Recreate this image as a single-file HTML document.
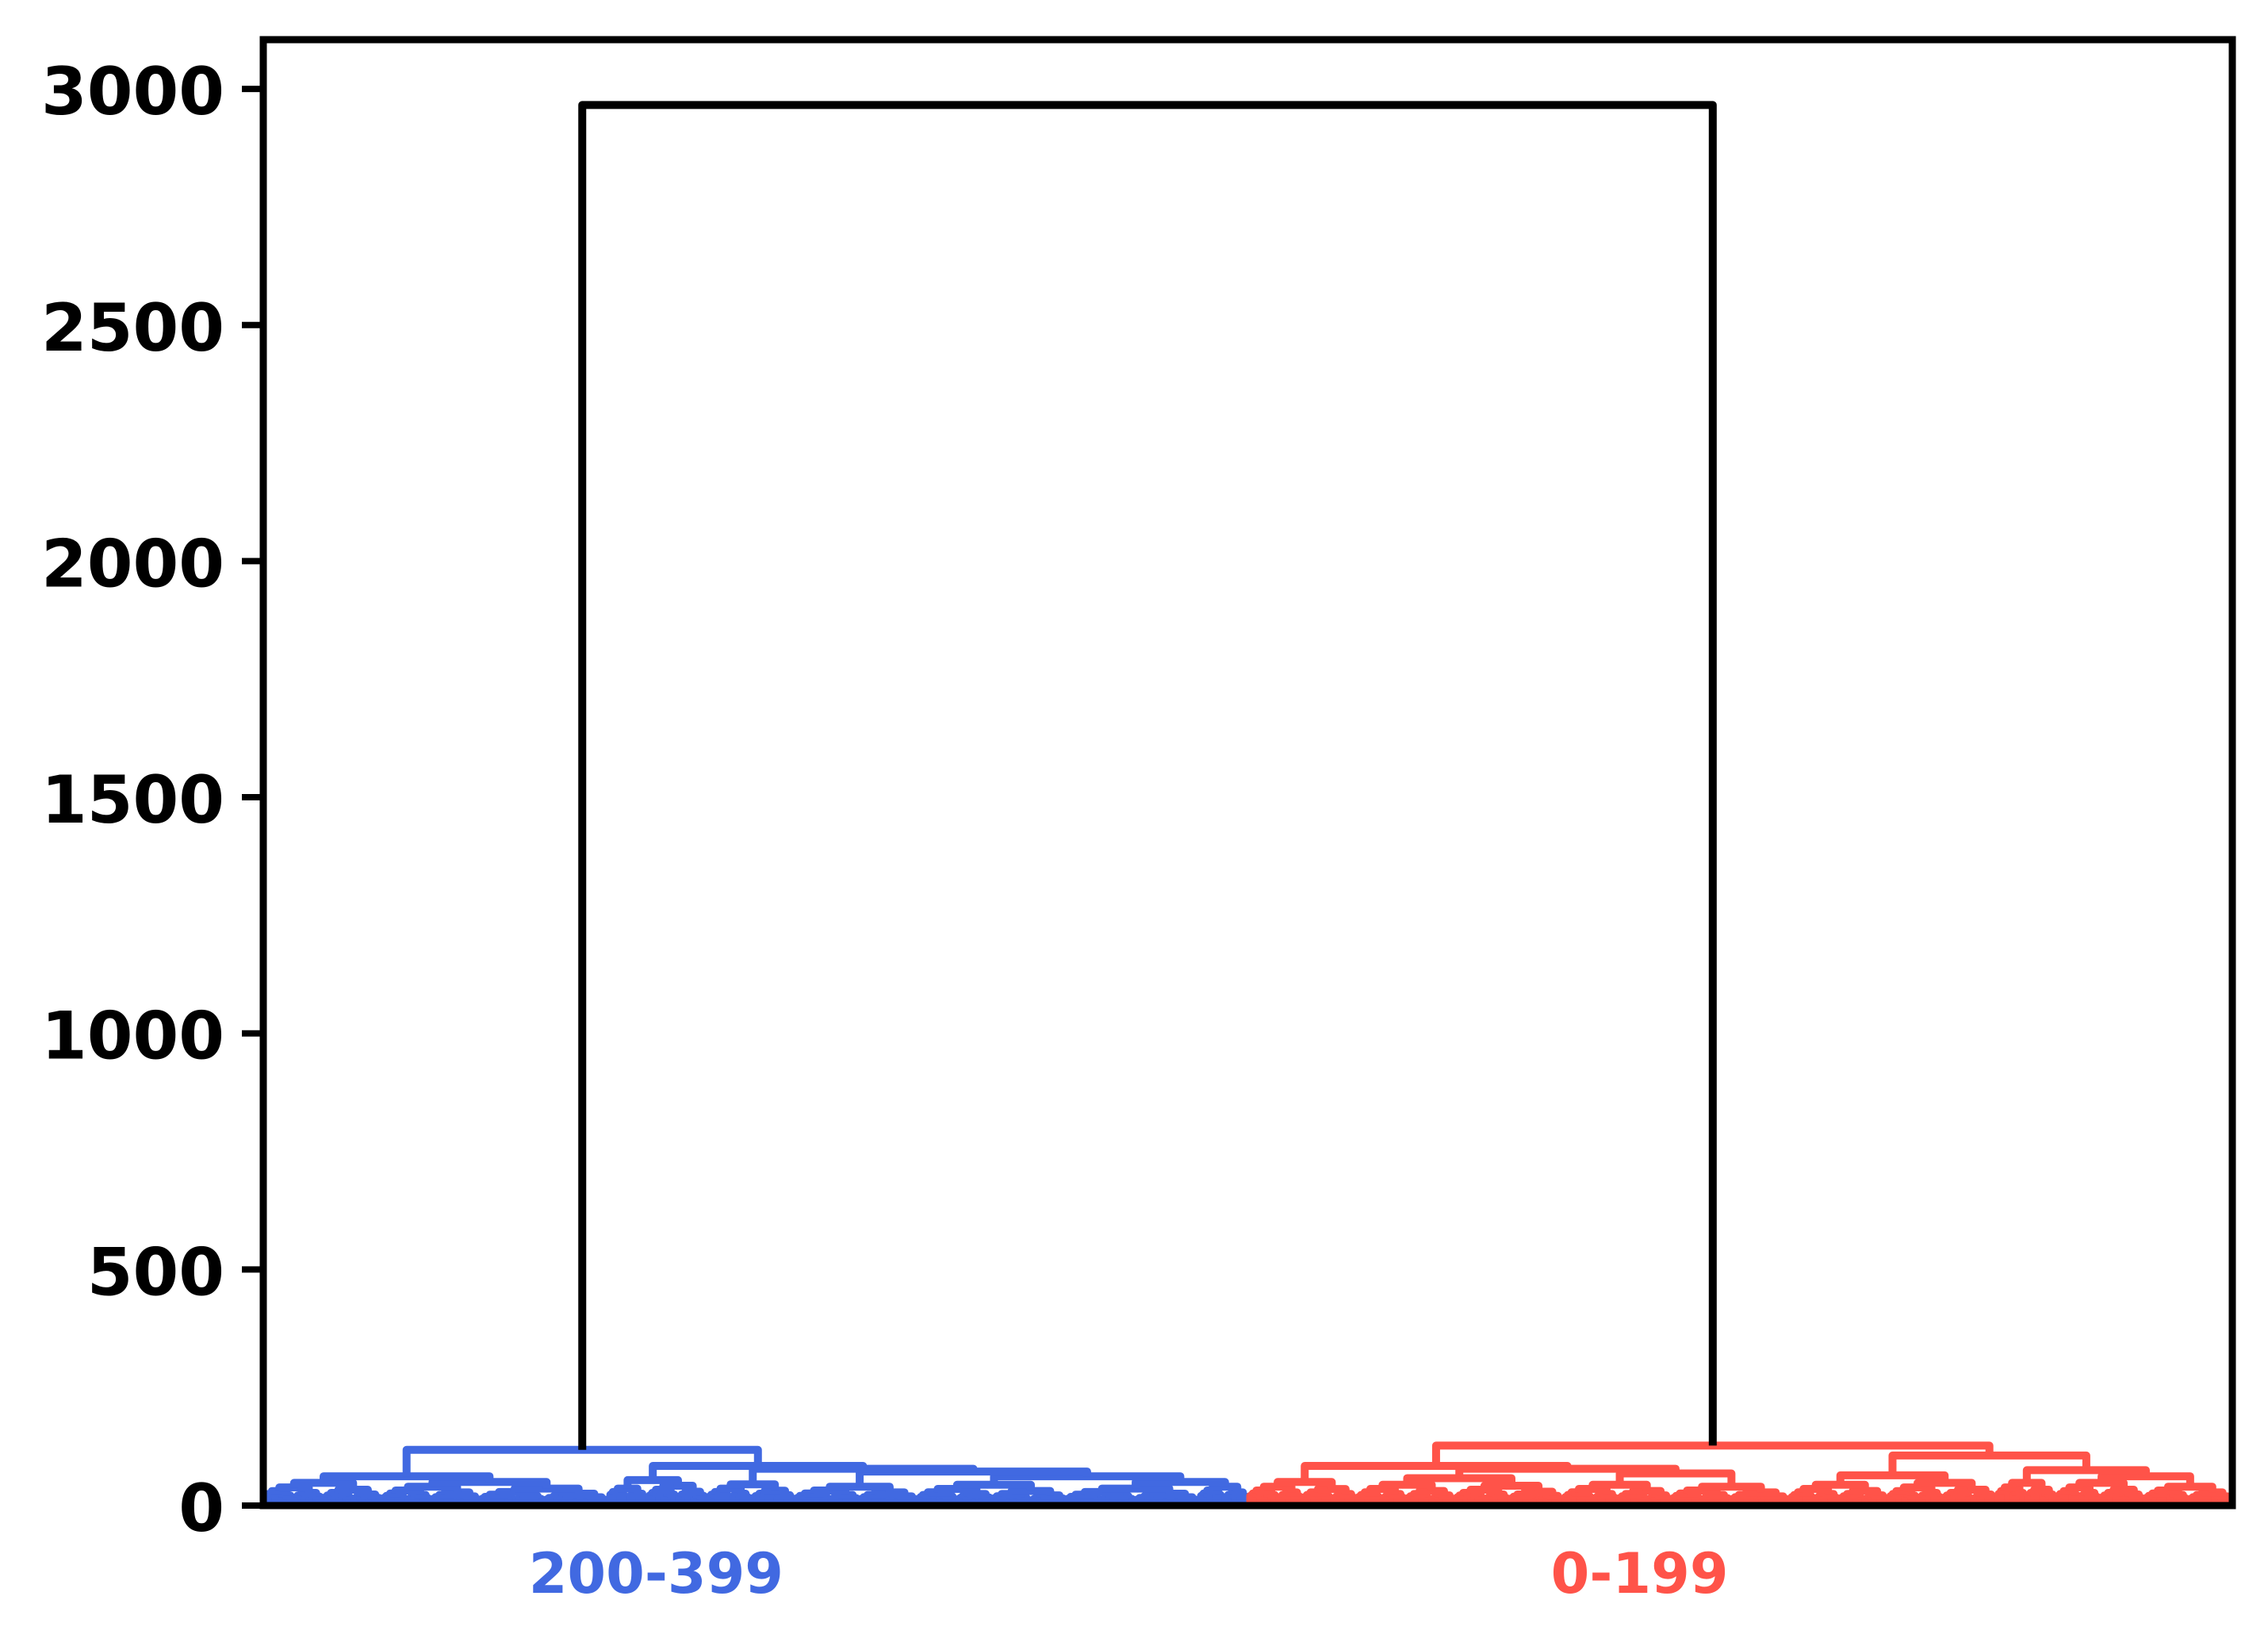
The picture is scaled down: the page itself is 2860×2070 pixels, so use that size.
<!DOCTYPE html>
<html><head><meta charset="utf-8"><style>
html,body{margin:0;padding:0;background:#fff}
svg{display:block}
text{font-family:"DejaVu Sans","Liberation Sans",sans-serif;font-weight:bold}
</style></head><body>
<svg id="chart" width="2860" height="2070" viewBox="0 0 2860 2070" xmlns="http://www.w3.org/2000/svg">
<rect x="0" y="0" width="2860" height="2070" fill="#fff"/>
<g id="links"></g>
<g id="axes"></g>
</svg>
<script>
const yTickValues = [0, 500, 1000, 1500, 2000, 2500, 3000];
const groupLabels = ["200-399", "0-199"];
const groupLabelPositions = [798, 2796];
const groupColors = ["#4169E1", "#FF5349"];
const rootHeight = 2966;
const leafCount = 400;
// tree nodes: ['N', height, left, right]; leaf groups: ['G', leafCount, height]
const blueTree = ['N', 118,
  ['N', 62, ['G', 24, 48], ['N', 50, ['G', 20, 40], ['G', 26, 36]]],
  ['N', 84, ['N', 54, ['G', 8, 36], ['G', 12, 42]],
    ['N', 78, ['G', 18, 45],
      ['N', 72, ['G', 25, 40],
        ['N', 62, ['G', 30, 44],
          ['N', 50, ['G', 27, 36], ['G', 10, 40]]]]]]];
const redTree = ['N', 127,
  ['N', 84, ['G', 22, 50],
    ['N', 78, ['N', 58, ['G', 20, 44], ['G', 22, 42]],
              ['N', 68, ['G', 22, 44], ['G', 24, 40]]]],
  ['N', 106, ['N', 64, ['G', 20, 44], ['G', 22, 48]],
    ['N', 75, ['G', 12, 48], ['N', 62, ['G', 18, 48], ['G', 18, 40]]]]];

const X0 = 332, X1 = 2815, Y0 = 1898, PXU = 0.5953;
const xScale = u => X0 + (u / (leafCount * 10)) * (X1 - X0);
const yScale = v => Y0 - v * PXU;
const NS = "http://www.w3.org/2000/svg";
const links = document.getElementById('links');
const axes = document.getElementById('axes');

function link(xl, hl, xr, hr, h, color, name) {
  const p = document.createElementNS(NS, 'polyline');
  p.setAttribute('points', `${xScale(xl)},${yScale(hl)} ${xScale(xl)},${yScale(h)} ${xScale(xr)},${yScale(h)} ${xScale(xr)},${yScale(hr)}`);
  p.setAttribute('fill', 'none');
  p.setAttribute('stroke', color);
  p.setAttribute('stroke-width', '10');
  p.setAttribute('stroke-linejoin', 'round');
  
  
  links.appendChild(p);
}
let cursor = 0;
function groupLayout(n, h, color) {
  if (n === 1) { const x = cursor * 10 + 5; cursor++; return {x: x, h: 0}; }
  const a = Math.ceil(n / 2), b = n - a;
  const L = groupLayout(a, h * 0.8, color);
  const R = groupLayout(b, h * 0.7, color);
  link(L.x, L.h, R.x, R.h, h, color, 'cluster-link');
  return {x: (L.x + R.x) / 2, h: h};
}
function layout(node, color) {
  if (node[0] === 'G') return groupLayout(node[1], node[2], color);
  const L = layout(node[2], color);
  const R = layout(node[3], color);
  link(L.x, L.h, R.x, R.h, node[1], color, 'cluster-link');
  return {x: (L.x + R.x) / 2, h: node[1]};
}
const B = layout(blueTree, groupColors[0]);
const Rr = layout(redTree, groupColors[1]);
link(B.x, B.h, Rr.x, Rr.h, rootHeight, '#000', 'root-link');

const frame = document.createElementNS(NS, 'rect');
frame.setAttribute('x', X0); frame.setAttribute('y', 50);
frame.setAttribute('width', X1 - X0); frame.setAttribute('height', Y0 - 50);
frame.setAttribute('fill', 'none'); frame.setAttribute('stroke', '#000'); frame.setAttribute('stroke-width', '9');


axes.appendChild(frame);

yTickValues.forEach(v => {
  const y = yScale(v);
  const t = document.createElementNS(NS, 'line');
  t.setAttribute('x1', 305); t.setAttribute('x2', X0); t.setAttribute('y1', y); t.setAttribute('y2', y);
  t.setAttribute('stroke', '#000'); t.setAttribute('stroke-width', '8');
  
  
  axes.appendChild(t);
  const tx = document.createElementNS(NS, 'text');
  tx.setAttribute('x', 283); tx.setAttribute('y', y + 32);
  tx.setAttribute('text-anchor', 'end'); tx.setAttribute('font-size', '83');
  tx.textContent = String(v);
  
  
  axes.appendChild(tx);
});
groupLabels.forEach((lab, i) => {
  const tx = document.createElementNS(NS, 'text');
  tx.setAttribute('x', xScale(groupLabelPositions[i])); tx.setAttribute('y', 2008);
  tx.setAttribute('text-anchor', 'middle'); tx.setAttribute('font-size', '70');
  tx.setAttribute('fill', groupColors[i]);
  tx.textContent = lab;
  
  
  axes.appendChild(tx);
});
</script>
</body></html>
